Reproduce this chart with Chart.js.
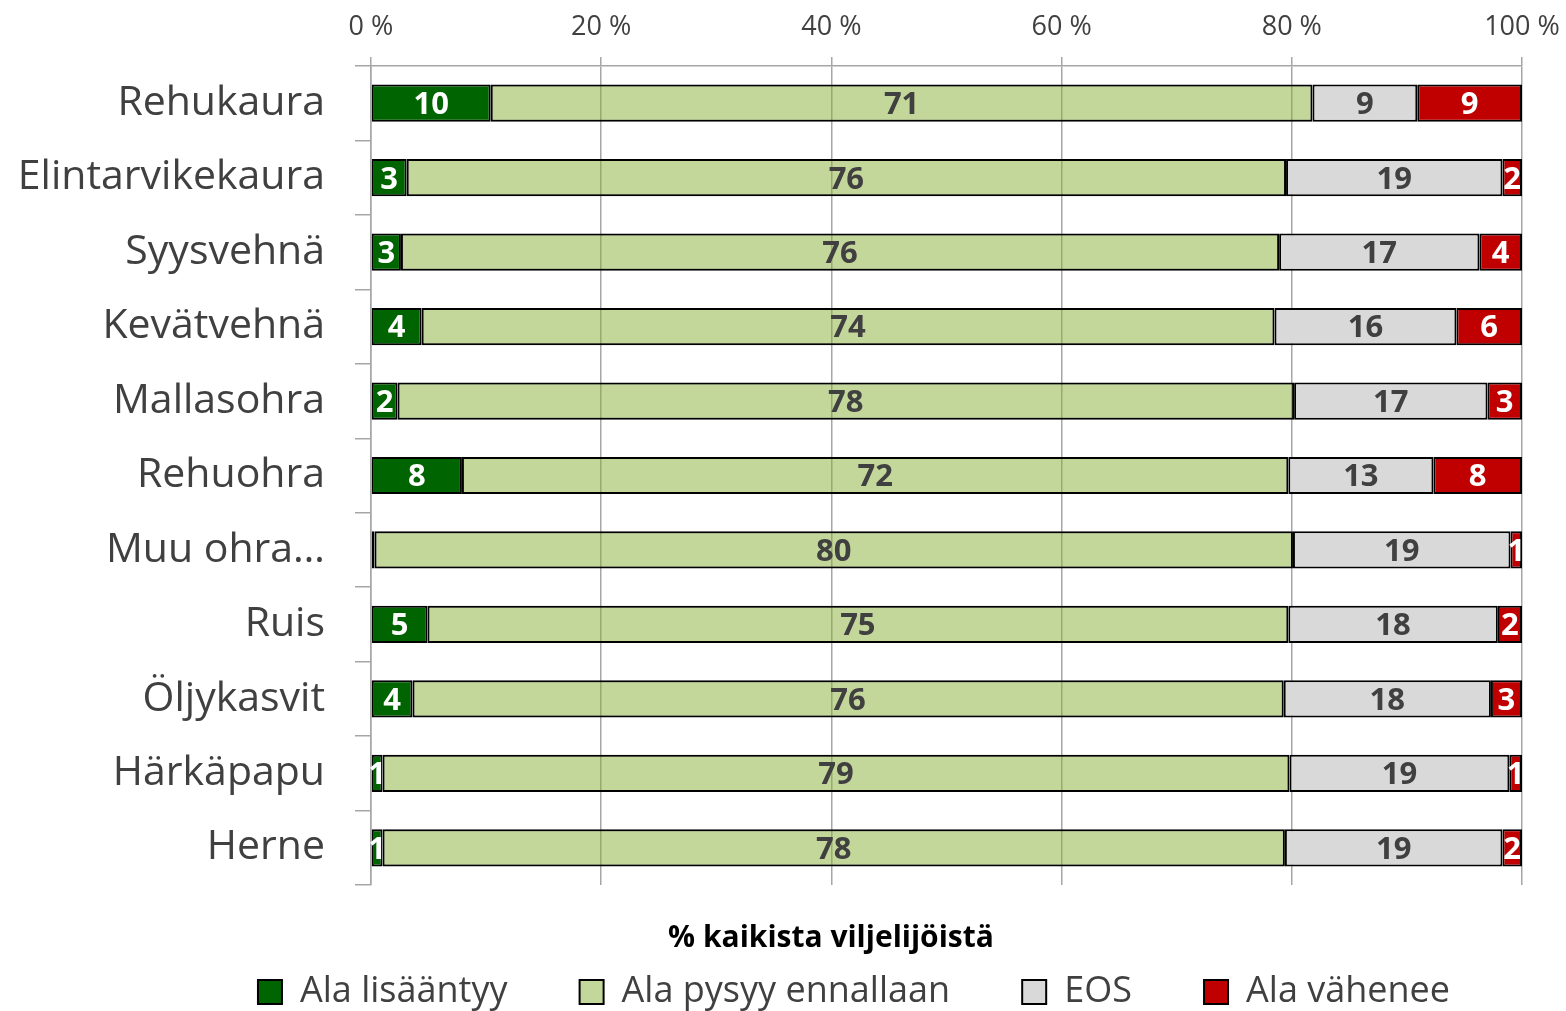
<!DOCTYPE html>
<html>
<head>
<meta charset="utf-8">
<script src="https://cdn.jsdelivr.net/npm/chart.js@4/dist/chart.umd.min.js"></script>
<style>
  body { margin: 0; background: #fff; }
</style>
</head>
<body>
<canvas id="chart" width="1566" height="1011"></canvas>
<script>
const categories = ['Rehukaura', 'Elintarvikekaura', 'Syysvehnä', 'Kevätvehnä', 'Mallasohra', 'Rehuohra',
    'Muu ohra…', 'Ruis', 'Öljykasvit', 'Härkäpapu', 'Herne'];
const seriesNames = ['Ala lisääntyy', 'Ala pysyy ennallaan', 'EOS', 'Ala vähenee'];
const alaLisaantyy = [10.4, 3.1, 2.6, 4.4, 2.3, 7.9, 0.3, 4.9, 3.6, 1.0, 1.0];
const alaPysyy = [71.4, 76.4, 76.3, 74.1, 77.9, 71.8, 79.8, 74.8, 75.7, 78.8, 78.4];
const eos = [9.1, 18.8, 17.4, 15.8, 16.8, 12.6, 18.9, 18.2, 18.0, 19.1, 18.9];
const alaVahenee = [9.1, 1.7, 3.7, 5.7, 3.0, 7.7, 1.0, 2.1, 2.7, 1.1, 1.7];
const xTicks = [0, 20, 40, 60, 80, 100];

const colors = {
    darkGreen: '#006400',
    lightGreen: 'rgba(137, 175, 55, 0.5)',
    gray: '#D9D9D9',
    red: '#C00000',
    grid: '#A6A6A6',
    text: '#404040'
};

const FONT = "'Open Sans', sans-serif";

// draws the rounded value in the middle of each segment
const segmentLabels = {
    id: 'segmentLabels',
    afterDatasetsDraw(chart) {
        const ctx = chart.ctx;
        ctx.save();
        ctx.font = 'bold 31px ' + FONT;
        ctx.textAlign = 'center';
        ctx.textBaseline = 'middle';
        chart.data.datasets.forEach((ds, i) => {
            const meta = chart.getDatasetMeta(i);
            meta.data.forEach((bar, j) => {
                const v = Math.round(ds.data[j]);
                if (v <= 0) return;
                const p = bar.getCenterPoint();
                ctx.fillStyle = ds.labelColor;
                ctx.fillText(String(v), p.x, p.y + 2);
            });
        });
        ctx.restore();
    }
};

// legend and axis title sit a bit right of the canvas centre
const shiftBottom = {
    id: 'shiftBottom',
    afterLayout(chart) {
        chart.legend.left += 93;
        chart.legend.right += 93;
        chart.titleBlock.left += 70;
        chart.titleBlock.right += 70;
    }
};

const ctx = document.getElementById('chart').getContext('2d');

new Chart(ctx, {
    type: 'bar',
    data: {
        labels: categories,
        datasets: [
            { label: seriesNames[0], data: alaLisaantyy, backgroundColor: colors.darkGreen, labelColor: '#ffffff' },
            { label: seriesNames[1], data: alaPysyy, backgroundColor: colors.lightGreen, labelColor: colors.text },
            { label: seriesNames[2], data: eos, backgroundColor: colors.gray, labelColor: colors.text },
            { label: seriesNames[3], data: alaVahenee, backgroundColor: colors.red, labelColor: '#ffffff' }
        ].map(ds => Object.assign(ds, {
            borderColor: '#000000',
            borderWidth: 2,
            borderSkipped: false,
            barPercentage: 0.5,
            categoryPercentage: 1
        }))
    },
    options: {
        indexAxis: 'y',
        responsive: false,
        animation: false,
        layout: {
            padding: { left: 0, right: 44, top: 0, bottom: -9 }
        },
        plugins: {
            tooltip: { enabled: false },
            title: {
                display: true,
                position: 'bottom',
                weight: 500,
                text: '% kaikista viljelijöistä',
                color: '#000000',
                font: { family: FONT, size: 30, weight: 'bold' },
                padding: { top: 35, bottom: 2 }
            },
            legend: {
                position: 'bottom',
                weight: 1000,
                labels: {
                    color: colors.text,
                    font: { family: FONT, size: 36 },
                    boxWidth: 24,
                    boxHeight: 24,
                    padding: 16,
                    generateLabels(chart) {
                        const items = Chart.defaults.plugins.legend.labels.generateLabels(chart);
                        items.forEach((it, i) => {
                            if (i < items.length - 1) it.text += '\u00a0\u00a0\u00a0\u00a0\u00a0\u00a0';
                        });
                        return items;
                    }
                }
            }
        },
        scales: {
            x: {
                position: 'top',
                stacked: true,
                min: 0,
                max: 100,
                afterBuildTicks(scale) {
                    scale.ticks = xTicks.map(v => ({ value: v }));
                },
                afterFit(scale) {
                    scale.height = 66;
                    scale.paddingLeft = 0;
                    scale.paddingRight = 0;
                },
                grid: { color: colors.grid, lineWidth: 1.5, tickLength: 9 },
                border: { color: colors.grid, width: 1.5 },
                ticks: {
                    color: colors.text,
                    font: { family: FONT, size: 27 },
                    padding: 13,
                    maxRotation: 0,
                    callback: v => v + ' %'
                }
            },
            y: {
                stacked: true,
                afterFit(scale) { scale.width = 371; },
                grid: { drawOnChartArea: false, color: colors.grid, lineWidth: 1.5, tickLength: 16 },
                border: { color: colors.grid, width: 1.5 },
                ticks: {
                    color: colors.text,
                    font: { family: FONT, size: 41 },
                    padding: 30,
                    autoSkip: false
                }
            }
        }
    },
    plugins: [segmentLabels, shiftBottom]
});
</script>
</body>
</html>
